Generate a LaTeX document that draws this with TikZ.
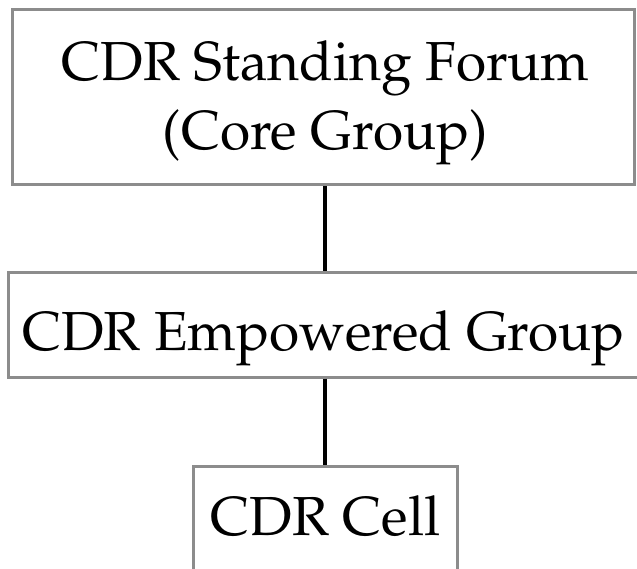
\documentclass[tikz,border=0pt]{standalone}
\usepackage[T1]{fontenc}
\usepackage{mathpazo}
\usepackage{tikz}
\usetikzlibrary{positioning}
\definecolor{boxgrey}{RGB}{140,140,140}

\begin{document}
\begin{tikzpicture}[
    x=1pt, y=1pt,
    box/.style={rectangle, draw=boxgrey, line width=3pt, fill=white, inner sep=0pt},
    lbl/.style={inner sep=0pt, font=\fontsize{55}{66}\selectfont},
    link/.style={line width=4pt, black}
]
\clip (0,0) rectangle (637,-569);
\node[box, minimum width=622, minimum height=175] (forum) at (323,-97.5) {};
\node[box, minimum width=634, minimum height=104] (empowered) at (325,-325) {};
\node[box, minimum width=264, minimum height=104] (cell) at (325,-518) {};
\node[lbl, anchor=base] (forumtxt) at (325.5,-81) {CDR Standing Forum};
\node[lbl, anchor=base] (coretxt) at (325.5,-150) {(Core Group)};
\node[lbl, anchor=base] (empoweredtxt) at (323.5,-350) {CDR Empowered Group};
\node[lbl, anchor=base] (celltxt) at (325.5,-535) {CDR Cell};
\draw[link] (forum.south -| cell.north) -- (empowered.north -| cell.north);
\draw[link] (empowered.south -| cell.north) -- (cell.north);
\end{tikzpicture}
\end{document}
